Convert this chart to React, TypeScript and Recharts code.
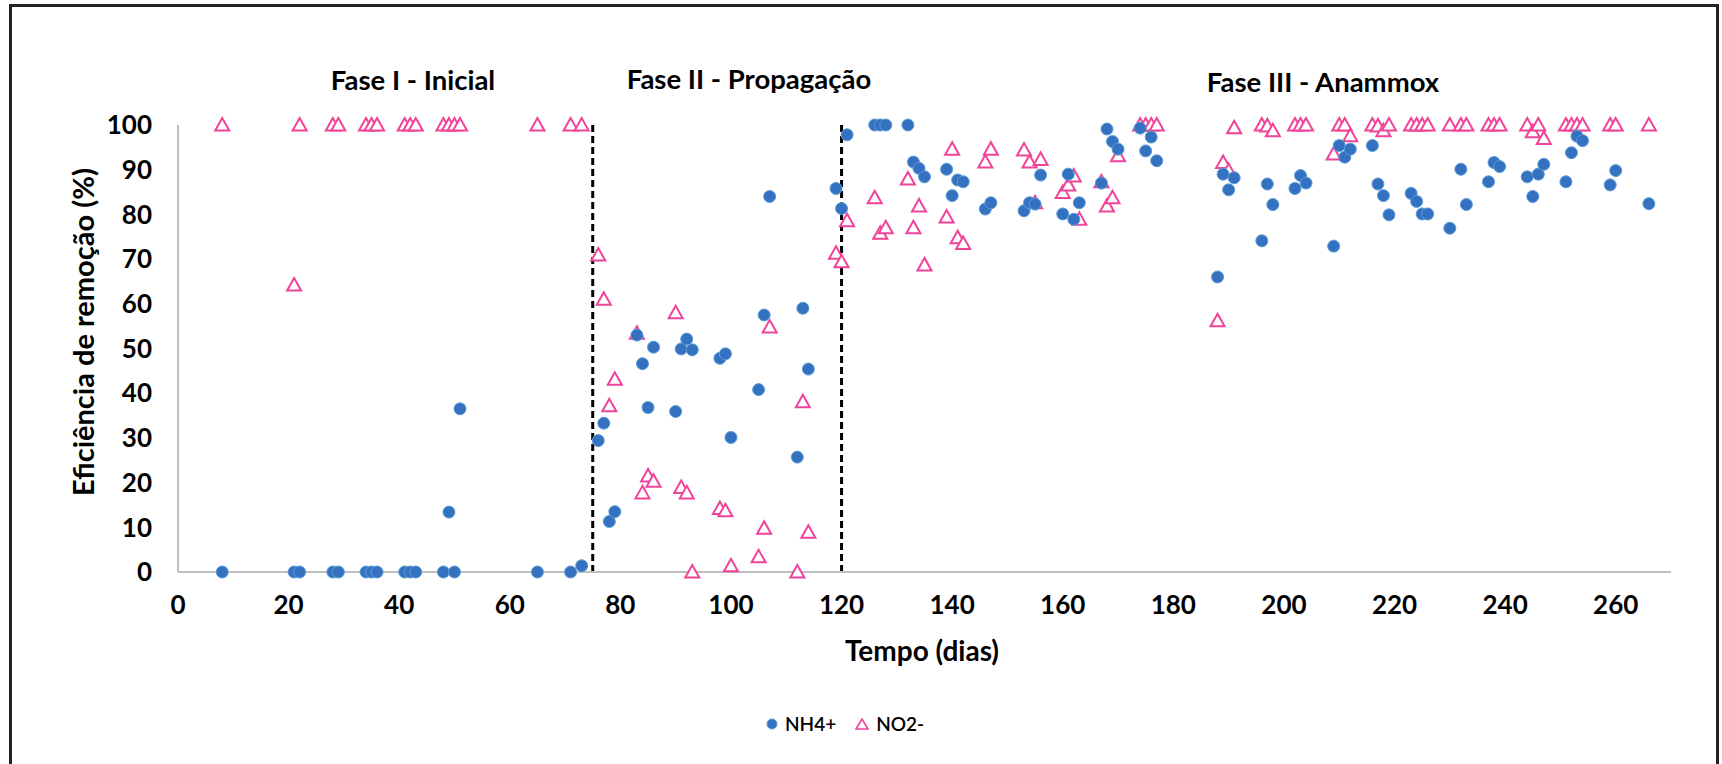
import React from "react";
import {
  ReferenceLine,
  Scatter,
  ScatterChart,
  XAxis,
  YAxis,
} from "recharts";

// dias de operação (mesmos para NH4+ e NO2-)
const dias = [
  8, 21, 22, 28, 29, 34, 35, 36, 41, 42, 43, 48, 49, 50, 51, 65, 71, 73,
  76, 77, 78, 79, 83, 84, 85, 86, 90, 91, 92, 93, 98, 99, 100, 105, 106, 107,
  112, 113, 114, 119, 120, 121,
  126, 127, 128, 132, 133, 134, 135, 139, 140, 141, 142, 146, 147, 153, 154,
  155, 156, 160, 161, 162, 163, 167, 168, 169, 170, 174, 175, 176, 177, 188,
  189, 190, 191, 196, 197, 198, 202, 203, 204, 209, 210, 211, 212, 216, 217,
  218, 219, 223, 224, 225, 226, 230, 232, 233, 237, 238, 239, 244, 245, 246,
  247, 251, 252, 253, 254, 259, 260, 266,
];

const nh4 = [
  0, 0, 0, 0, 0, 0, 0, 0, 0, 0, 0, 0, 13.4, 0, 36.5, 0, 0, 1.4,
  29.4, 33.3, 11.3, 13.5, 53.0, 46.6, 36.8, 50.3, 35.9, 49.9, 52.1, 49.7,
  47.8, 48.8, 30.1, 40.8, 57.5, 84.0, 25.7, 59.0, 45.4, 85.8, 81.3, 97.8,
  100, 100, 100, 100, 91.7, 90.3, 88.4, 90.1, 84.2, 87.7, 87.3, 81.2, 82.6,
  80.8, 82.6, 82.3, 88.8, 80.1, 89.0, 78.9, 82.6, 87.0, 99.1, 96.3, 94.6,
  99.3, 94.2, 97.3, 92.0, 66.0, 89.0, 85.5, 88.2, 74.1, 86.8, 82.2, 85.8,
  88.7, 87.0, 72.9, 95.4, 92.8, 94.6, 95.4, 86.8, 84.2, 79.9, 84.7, 82.9,
  80.1, 80.1, 76.9, 90.1, 82.2, 87.3, 91.6, 90.7, 88.4, 84.0, 89.0, 91.2,
  87.3, 93.8, 97.5, 96.5, 86.6, 89.8, 82.4,
];

const no2 = [
  100, 64.2, 100, 100, 100, 100, 100, 100, 100, 100, 100, 100, 100, 100, 100,
  100, 100, 100,
  70.9, 61.0, 37.2, 43.1, 53.4, 17.7, 21.5, 20.3, 58.0, 18.9, 17.7, 0, 14.2,
  13.7, 1.4, 3.4, 9.8, 54.8, 0, 38.1, 8.9, 71.3, 69.4, 78.6,
  83.7, 75.8, 77.0, 87.9, 77.0, 81.9, 68.7, 79.4, 94.6, 74.8, 73.5, 91.7,
  94.6, 94.4, 91.7, 82.6, 92.3, 84.9, 86.6, 88.6, 78.9, 87.3, 81.9, 83.7,
  93.1, 100, 100, 100, 100, 56.2, 91.6, 89.8, 99.4, 100, 99.8, 98.7, 100,
  100, 100, 93.5, 100, 100, 97.6, 100, 99.8, 98.7, 100, 100, 100, 100, 100,
  100, 100, 100, 100, 100, 100, 100, 98.5, 100, 97.0, 100, 100, 100, 100,
  100, 100, 100,
];

const xTicks = [0, 20, 40, 60, 80, 100, 120, 140, 160, 180, 200, 220, 240, 260];
const yTicks = [0, 10, 20, 30, 40, 50, 60, 70, 80, 90, 100];
const fases = [75, 120]; // limites entre as fases

const dadosNH4 = dias.map((d, i) => ({ x: d, y: nh4[i] }));
const dadosNO2 = dias.map((d, i) => ({ x: d, y: no2[i] }));

const AZUL = "#3571C1";
const ROSA = "#F0439A";
const FONTE = "Lato, 'Open Sans', sans-serif";

const Circulo = (props: any) => {
  const { cx, cy } = props;
  if (cx == null || cy == null) return null;
  return <circle cx={cx} cy={cy} r={6} fill={AZUL} stroke="#5B9BD5" strokeWidth={1} />;
};

const Triangulo = (props: any) => {
  const { cx, cy } = props;
  if (cx == null || cy == null) return null;
  return (
    <polygon
      points={`${cx},${cy - 7} ${cx - 7},${cy + 5.5} ${cx + 7},${cy + 5.5}`}
      fill="white"
      stroke={ROSA}
      strokeWidth={2}
    />
  );
};

const tituloFase: React.CSSProperties = {
  position: "absolute",
  fontFamily: FONTE,
  fontWeight: 700,
  fontSize: 27.5,
  transform: "translate(-50%, -50%)",
  whiteSpace: "nowrap",
  color: "#000",
};

export default function App() {
  return (
    <div
      style={{
        position: "absolute",
        left: 0,
        top: 0,
        width: 1722,
        height: 764,
        background: "white",
        overflow: "hidden",
        fontFamily: FONTE,
      }}
    >
      {/* moldura */}
      <div
        style={{
          position: "absolute",
          left: 9,
          top: 4,
          width: 1704,
          height: 780,
          border: "3px solid #222",
        }}
      />

      <div style={{ ...tituloFase, left: 413, top: 79 }}>Fase I - Inicial</div>
      <div style={{ ...tituloFase, left: 749, top: 78 }}>Fase II - Propagação</div>
      <div style={{ ...tituloFase, left: 1323, top: 81 }}>Fase III - Anammox</div>

      <div style={{ position: "absolute", left: 0, top: 0 }}>
        <ScatterChart
          width={1722}
          height={764}
          margin={{ top: 125, right: 51, bottom: 132, left: 0 }}
        >
          <XAxis
            type="number"
            dataKey="x"
            domain={[0, 270]}
            ticks={xTicks}
            allowDataOverflow
            height={60}
            tickLine={false}
            tickMargin={18}
            axisLine={{ stroke: "#BFBFBF", strokeWidth: 2 }}
            tick={{ fill: "#000", fontSize: 26, fontWeight: 700, fontFamily: FONTE }}
          />
          <YAxis
            type="number"
            dataKey="y"
            domain={[0, 100]}
            ticks={yTicks}
            width={178}
            tickLine={false}
            tickMargin={20}
            axisLine={{ stroke: "#BFBFBF", strokeWidth: 2 }}
            tick={{ fill: "#000", fontSize: 26, fontWeight: 700, fontFamily: FONTE }}
          />
          {fases.map((f) => (
            <ReferenceLine
              key={f}
              x={f}
              stroke="#000"
              strokeWidth={3}
              strokeDasharray="7 4"
            />
          ))}
          <Scatter
            name="NO2-"
            data={dadosNO2}
            shape={<Triangulo />}
            isAnimationActive={false}
          />
          <Scatter
            name="NH4+"
            data={dadosNH4}
            shape={<Circulo />}
            isAnimationActive={false}
          />
        </ScatterChart>
      </div>

      {/* títulos dos eixos */}
      <div
        style={{
          position: "absolute",
          left: 82,
          top: 332,
          transform: "translate(-50%, -50%) rotate(-90deg)",
          fontWeight: 700,
          fontSize: 29,
          whiteSpace: "nowrap",
        }}
      >
        Eficiência de remoção (%)
      </div>
      <div
        style={{
          position: "absolute",
          left: 922,
          top: 650,
          transform: "translate(-50%, -50%)",
          fontWeight: 700,
          fontSize: 28,
          whiteSpace: "nowrap",
        }}
      >
        Tempo (dias)
      </div>

      {/* legenda */}
      <div
        style={{
          position: "absolute",
          left: 766,
          top: 712,
          display: "flex",
          alignItems: "center",
          fontSize: 19,
          fontWeight: 600,
          gap: 7,
        }}
      >
        <svg width={12} height={12}>
          <circle cx={6} cy={6} r={5} fill={AZUL} stroke="#5B9BD5" />
        </svg>
        <span style={{ marginRight: 12 }}>NH4+</span>
        <svg width={14} height={12}>
          <polygon points="7,1 1,11 13,11" fill="white" stroke={ROSA} strokeWidth={1.6} />
        </svg>
        <span>NO2-</span>
      </div>
    </div>
  );
}
